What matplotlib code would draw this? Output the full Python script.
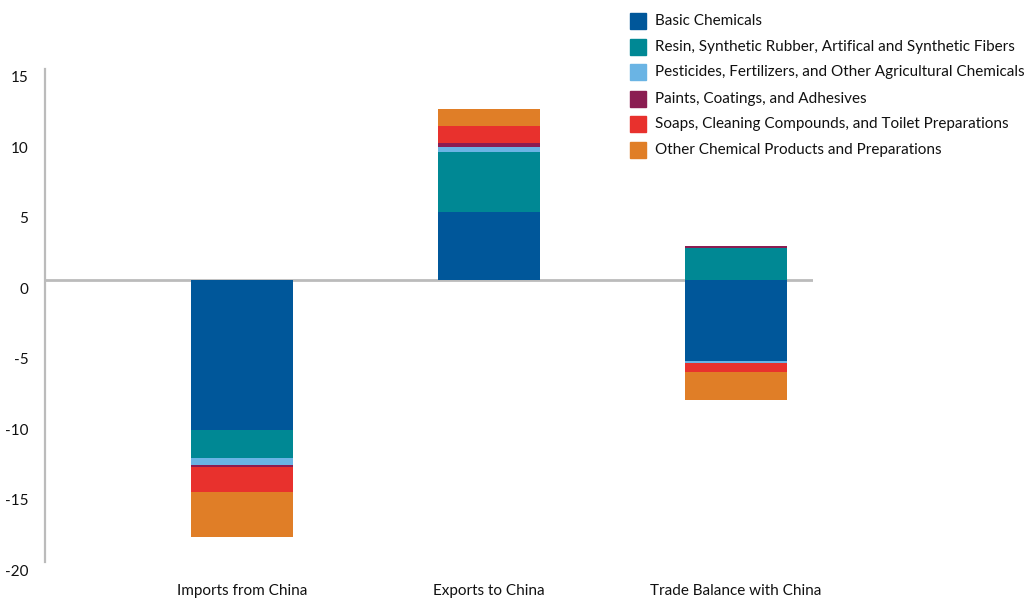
import numpy as np
import matplotlib.pyplot as plt
from matplotlib.patches import Rectangle
from matplotlib.transforms import ScaledTranslation

plt.rcParams["font.family"] = ["Lato", "DejaVu Sans"]

# Categorias del eje x
groups = ["Imports from China", "Exports to China", "Trade Balance with China"]

# Series (miles de millones USD)
series_names = [
    "Basic Chemicals",
    "Resin, Synthetic Rubber, Artifical and Synthetic Fibers",
    "Pesticides, Fertilizers, and Other Agricultural Chemicals",
    "Paints, Coatings, and Adhesives",
    "Soaps, Cleaning Compounds, and Toilet Preparations",
    "Other Chemical Products and Preparations",
]
basic = [-10.6, 4.84, -5.76]
resin = [-1.99, 4.27, 2.28]
pesticides = [-0.5, 0.36, -0.12]
paints = [-0.14, 0.28, 0.16]
soaps = [-1.83, 1.21, -0.63]
other = [-3.2, 1.21, -1.99]

yticks = [15, 10, 5, 0, -5, -10, -15, -20]

colors = ["#00579A", "#008894", "#6AB4E4", "#8B1D52", "#E8312D", "#E07E27"]

series = [basic, resin, pesticides, paints, soaps, other]

fig = plt.figure(figsize=(10.29, 5.98), dpi=100)
ax = fig.add_axes([45 / 1029, 1 - 562 / 598, (813 - 45) / 1029, (562 - 69) / 598])

x = np.arange(len(groups))
pos_base = np.zeros(len(groups))
neg_base = np.zeros(len(groups))

# Apilamos positivos hacia arriba y negativos hacia abajo
for values, color in zip(series, colors):
    values = np.array(values)
    bottoms = np.where(values >= 0, pos_base, neg_base)
    ax.bar(x, values, width=0.413, bottom=bottoms, color=color, zorder=2)
    pos_base = pos_base + np.where(values >= 0, values, 0)
    neg_base = neg_base + np.where(values < 0, values, 0)

ax.axhline(0, color="#BBBBBB", linewidth=2, zorder=1)

ax.set_xlim(-0.798, 2.312)
ax.set_ylim(-20, 15)

for side in ["top", "right", "bottom"]:
    ax.spines[side].set_visible(False)
ax.spines["left"].set_color("#BBBBBB")
ax.spines["left"].set_linewidth(1.6)

ax.set_yticks(yticks)
ax.set_yticklabels([str(v) for v in yticks])
ax.tick_params(axis="y", length=0, pad=12, labelsize=11, labelcolor="#111111")
offset = ScaledTranslation(0, -0.08, fig.dpi_scale_trans)
for label in ax.get_yticklabels():
    label.set_transform(label.get_transform() + offset)

ax.set_xticks(x)
ax.set_xticklabels(groups)
ax.tick_params(axis="x", length=0, pad=16, labelsize=11, labelcolor="#111111")

# Leyenda manual en la esquina superior derecha
legend_y = [21, 47, 72, 99, 124, 150]
for name, color, yy in zip(series_names, colors, legend_y):
    fig.patches.append(
        Rectangle((630 / 1029, 1 - (yy + 8) / 598), 16 / 1029, 16 / 598,
                  transform=fig.transFigure, color=color)
    )
    fig.text(655 / 1029, 1 - yy / 598, name, fontsize=11, va="center",
             ha="left", color="#111111")

plt.savefig("out.png", dpi=100)
